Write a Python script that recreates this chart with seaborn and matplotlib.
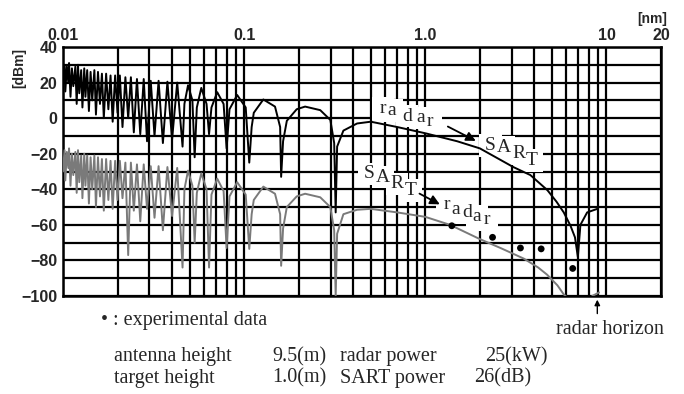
import pandas as pd
import seaborn as sns
import matplotlib.pyplot as plt
from matplotlib.ticker import LogLocator, MultipleLocator, NullFormatter

# range points of the interference lobes (nm), shared by both curves
lobe_nm = [
    0.0100, 0.0102, 0.0103, 0.0105, 0.0107, 0.0108, 0.0110, 0.0112, 0.0114, 0.0117,
    0.0119, 0.0121, 0.0123, 0.0126, 0.0128, 0.0131, 0.0133, 0.0136, 0.0139, 0.0142,
    0.0145, 0.0149, 0.0152, 0.0156, 0.0160, 0.0164, 0.0168, 0.0173, 0.0178, 0.0183,
    0.0188, 0.0194, 0.0200, 0.0206, 0.0213, 0.0221, 0.0229, 0.0237, 0.0246, 0.0256,
    0.0267, 0.0279, 0.0291, 0.0305, 0.0320, 0.0337, 0.0356, 0.0377, 0.0400, 0.0427,
    0.0457, 0.0468, 0.0490, 0.0518, 0.0533, 0.0548, 0.0580, 0.0620, 0.0640, 0.0660,
    0.0710, 0.0770, 0.0800, 0.0830, 0.0915, 0.1020, 0.1067, 0.1100, 0.1130, 0.1276,
    0.1480, 0.1580, 0.1600, 0.1640, 0.1720, 0.1950, 0.2170, 0.2630, 0.2990, 0.3140,
    0.3200, 0.3260, 0.3530, 0.4200, 0.5000,
]
# radar -> SART (black)
black_lobe_dbm = [
    22, 30, 15, 29, 20, 31, 12, 28, 18, 29,
    8, 30, 14, 27, 6, 28, 12, 27, 4, 26,
    10, 27, 2, 26, 8, 25, 0, 25, 5, 24,
    -2, 24, 3, 24, -5, 23, 0, 23, -8, 22,
    -9, 22, -13, 21, -10, 21, -14, 20.5, -12, 20,
    -16, 8, 18.5, 10, -22, 6, 17, 8, -9, 6,
    14.6, 8, -17, 5, 13, 6, -25, -5, 3, 10.5,
    6.5, -5, -33, -13, -1.5, 5, 6.5, 4.5, -1, -14,
    -53, -16, -7, -3, -2,
]
# SART -> radar (gray)
gray_lobe_dbm = [
    -30, -18, -35, -19, -28, -17, -38, -20, -32, -19,
    -42, -18, -36, -21, -45, -20, -38, -21, -48, -22,
    -40, -21, -50, -22, -44, -23, -52, -23, -46, -24,
    -51, -24, -46, -24, -45, -25, -77, -25, -52, -26,
    -58, -26, -51, -27, -56, -27, -63, -27.5, -55, -28,
    -84, -40, -29.5, -38, -70, -42, -31, -40, -84, -43,
    -34, -41, -73, -44, -36, -43, -73.5, -54, -46, -38.5,
    -42.5, -54, -83, -62, -50, -44, -42.5, -44.5, -50, -63,
    -100, -65, -54, -51.5, -51,
]
black_tail_nm = [0.70, 1.0, 1.5, 2.0, 3.06, 3.8, 4.72, 5.30, 5.81, 6.33, 6.70, 6.95, 7.18, 7.82, 8.9]
black_tail_dbm = [-5, -8.5, -13, -17, -27.5, -32, -40.5, -47, -53, -60.5, -67, -78, -60, -53, -51]
gray_tail_nm = [0.70, 1.0, 1.37, 2.0, 2.6, 3.5, 4.2, 4.7, 5.36, 5.8, 5.95]
gray_tail_dbm = [-53, -55.5, -60, -68, -73, -79, -84, -88, -94, -99, -100]
horizon_nm = [8.34, 9.1]
horizon_dbm = [-100, -98]

# experimental data
exp_nm = [1.40, 2.35, 3.35, 4.36, 6.51]
exp_dbm = [-60.5, -67, -73, -73.5, -84.5]

x_ticks = [0.01, 0.1, 1.0, 10, 20]
x_labels = ['0.01', '0.1', '1.0', '10', '20']

curves = pd.concat([
    pd.DataFrame({'nm': lobe_nm + black_tail_nm, 'dbm': black_lobe_dbm + black_tail_dbm,
                  'curve': 'radar to SART', 'seg': 0}),
    pd.DataFrame({'nm': lobe_nm + gray_tail_nm, 'dbm': gray_lobe_dbm + gray_tail_dbm,
                  'curve': 'SART to radar', 'seg': 1}),
    pd.DataFrame({'nm': horizon_nm, 'dbm': horizon_dbm, 'curve': 'SART to radar', 'seg': 2}),
], ignore_index=True)
exp = pd.DataFrame({'nm': exp_nm, 'dbm': exp_dbm})

sns.set_style('white')
plt.rcParams['font.family'] = ['Liberation Sans', 'DejaVu Sans']

fig = plt.figure(figsize=(6.84, 3.94), dpi=100)
ax = fig.add_axes([0.0921, 0.2487, 0.8743, 0.632])

sns.lineplot(data=curves, x='nm', y='dbm', hue='curve', units='seg', estimator=None,
             sort=False, palette={'radar to SART': 'black', 'SART to radar': '#7a7a7a'},
             linewidth=1.4, legend=False, ax=ax, zorder=4)
sns.scatterplot(data=exp, x='nm', y='dbm', color='black', s=24, edgecolor='none', ax=ax, zorder=5)

ax.set_xscale('log')
ax.set_xlim(0.01, 20)
ax.set_ylim(-100, 40)
ax.xaxis.tick_top()
ax.set_xticks(x_ticks)
ax.set_xticklabels(x_labels)
ax.xaxis.set_minor_locator(LogLocator(base=10, subs=range(2, 10)))
ax.xaxis.set_minor_formatter(NullFormatter())
ax.yaxis.set_major_locator(MultipleLocator(20))
ax.yaxis.set_minor_locator(MultipleLocator(10))
ax.tick_params(which='both', length=0)
ax.tick_params(axis='x', pad=3, labelsize=11.5)
ax.tick_params(axis='y', pad=4, labelsize=11.5)
for lab in ax.get_xticklabels() + ax.get_yticklabels():
    lab.set_fontweight('bold')
ax.grid(which='both', color='black', linewidth=1.6)
ax.set_axisbelow(True)
for sp in ax.spines.values():
    sp.set_color('black')
    sp.set_linewidth(1.8)
ax.set_xlabel('')
ax.set_ylabel('')

fig.text(652 / 684, 1 - 19 / 394, '[nm]', ha='center', va='center', fontsize=10, fontweight='bold')
fig.text(19 / 684, 1 - 68 / 394, '[dBm]', ha='center', va='center', rotation=90, fontsize=10, fontweight='bold')

# staircase labels on the curves, white squares behind them hide the grid
serif = 'Liberation Serif'
letters = [
    ('r', 0.584, 5.4), ('a', 0.655, 4.4), ('d', 0.793, 1.2), ('a', 0.938, 0.1), ('r', 1.066, -1.8),
    ('S', 2.286, -15.3), ('A', 2.715, -16.3), ('R', 3.265, -20), ('T', 3.876, -23.8),
    ('S', 0.490, -31.3), ('A', 0.582, -33.2), ('R', 0.700, -37), ('T', 0.832, -40.7),
    ('r', 1.32, -48.8), ('a', 1.47, -51.1), ('d', 1.70, -53), ('a', 1.93, -55.3), ('r', 2.19, -57.1),
]
ax.scatter([p[1] for p in letters], [p[2] for p in letters], marker='s', s=260,
           color='white', edgecolor='none', zorder=2)
for ch, lx, ly in letters:
    ax.text(lx, ly, ch, family=serif, fontsize=14, ha='center', va='center', zorder=3)
arrow = dict(arrowstyle='-|>', color='black', lw=1.3, mutation_scale=14)
ax.annotate('', xy=(1.96, -13.5), xytext=(1.29, -4), arrowprops=arrow, zorder=6)
ax.annotate('', xy=(1.24, -49.2), xytext=(0.90, -41.7), arrowprops=arrow, zorder=6)

# radar horizon marker
ax.annotate('', xy=(8.9, -100.5), xytext=(0, -14), xycoords='data', textcoords='offset points',
            arrowprops=dict(arrowstyle='-|>', color='black', lw=1, mutation_scale=8),
            annotation_clip=False)
fig.text(610 / 684, 1 - 330 / 394, 'radar horizon', ha='center', va='center', family=serif, fontsize=14.5)

fig.text(101 / 684, 1 - 321 / 394, '\u2022 : experimental data', ha='left', va='center', family=serif, fontsize=14.5)
rows = [('antenna height', '9.5(m)', 'radar power', '25(kW)', 357),
        ('target height', '1.0(m)', 'SART power', '26(dB)', 378)]
for a, b, c, d, y in rows:
    fig.text(114 / 684, 1 - y / 394, a, ha='left', va='center', family=serif, fontsize=14.5)
    fig.text(272 / 684, 1 - y / 394, b, ha='left', va='center', family=serif, fontsize=14.5)
    fig.text(340 / 684, 1 - y / 394, c, ha='left', va='center', family=serif, fontsize=14.5)
    fig.text((485 if d == '25(kW)' else 474) / 684, 1 - y / 394, d, ha='left', va='center', family=serif, fontsize=14.5)

fig.savefig('out.png', dpi=100)
